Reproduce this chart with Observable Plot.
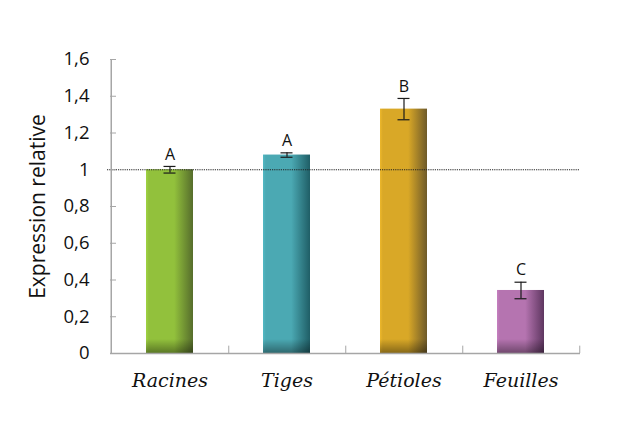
<!DOCTYPE html>
<html>
<head>
<meta charset="utf-8">
<script src="https://cdn.jsdelivr.net/npm/d3@7"></script>
<script src="https://cdn.jsdelivr.net/npm/@observablehq/plot@0.6"></script>
<style>
  html, body { margin: 0; padding: 0; background: #fff; }
  #chart svg { display: block; }
</style>
</head>
<body>
<div id="chart"></div>
<script>
const categories = ["Racines", "Tiges", "Pétioles", "Feuilles"];
const values = [1.0, 1.08, 1.33, 0.343];
const errors = [0.018, 0.012, 0.058, 0.045];
const letters = ["A", "A", "B", "C"];
const yTicks = [0, 0.2, 0.4, 0.6, 0.8, 1.0, 1.2, 1.4, 1.6];
const baseColors = ["#92c13c", "#4ba9b3", "#d9a827", "#b574b0"];
const darkColors = ["#566d2c", "#1f5e66", "#6e5a2a", "#5e3660"];

const W = 617, H = 425;
const mL = 110, mR = 37, mT = 59, mB = 72;
const innerW = W - mL - mR;
const padIn = 0.6, padOut = 0.3;
const step = innerW / (categories.length - padIn + 2 * padOut);

const data = categories.map((c, i) => ({
  cat: c, v: values[i], e: errors[i], letter: letters[i], grad: `url(#grad${i})`
}));

const fmt = d => String(d).replace(".", ",");

const chart = Plot.plot({
  width: W,
  height: H,
  marginLeft: mL,
  marginRight: mR,
  marginTop: mT,
  marginBottom: mB,
  style: { background: "#fff" },
  x: { domain: categories, paddingInner: padIn, paddingOuter: padOut, axis: null },
  y: { domain: [0, 1.6], axis: null },
  color: { type: "identity" },
  marks: [
    Plot.barY(data, { x: "cat", y: "v", fill: "grad" }),
    Plot.barY(data, { x: "cat", y: "v", fill: "url(#shadeBottom)" }),
    Plot.ruleY([1], { stroke: "#222", strokeDasharray: "1.2,1", strokeWidth: 1, insetLeft: -3 }),
    Plot.ruleY([0], { stroke: "#a6a6a6", strokeWidth: 1.5 }),
    Plot.ruleX([categories[0]], { dx: -step / 2, stroke: "#a6a6a6", strokeWidth: 1.5 }),
    Plot.ruleY(yTicks, { y: d => d, insetRight: innerW - 6, stroke: "#a6a6a6", strokeWidth: 1 }),
    Plot.ruleX(categories, { x: d => d, dx: step / 2, y1: 0, y2: 0.04, stroke: "#a6a6a6", strokeWidth: 1 }),
    Plot.ruleX(data, { x: "cat", y1: d => d.v - d.e, y2: d => d.v + d.e, stroke: "#1a1a1a", strokeWidth: 1.2 }),
    Plot.tickY(data, { x: "cat", y: d => d.v - d.e, insetLeft: 17.5, insetRight: 17.5, stroke: "#1a1a1a", strokeWidth: 1.2 }),
    Plot.tickY(data, { x: "cat", y: d => d.v + d.e, insetLeft: 17.5, insetRight: 17.5, stroke: "#1a1a1a", strokeWidth: 1.2 }),
    Plot.text(data, { x: "cat", y: d => d.v + d.e, text: "letter", dy: -12, fontSize: 16, fontFamily: "Open Sans", fill: "#111" }),
    Plot.axisY(yTicks, { anchor: "left", tickSize: 0, tickPadding: 21, tickFormat: fmt, fontSize: 18.5, fontFamily: "Open Sans", color: "#111", label: null }),
    Plot.text(["Expression relative"], { frameAnchor: "left", dx: -72, textAnchor: "middle", rotate: -90, fontSize: 21, fontFamily: "Open Sans", fill: "#111" }),
    Plot.axisX(categories, { anchor: "bottom", tickSize: 0, tickPadding: 20, fontSize: 19, fontFamily: "DejaVu Serif", fontStyle: "italic", color: "#111", label: null })
  ]
});

const ns = "http://www.w3.org/2000/svg";
const defs = document.createElementNS(ns, "defs");
baseColors.forEach((c, i) => {
  const g = document.createElementNS(ns, "linearGradient");
  g.setAttribute("id", `grad${i}`);
  g.setAttribute("x1", "0"); g.setAttribute("x2", "1");
  g.setAttribute("y1", "0"); g.setAttribute("y2", "0");
  const light = d3.color(c).brighter(0.25).formatHex();
  [[0, light], [0.06, c], [0.6, c], [1, darkColors[i]]].forEach(([o, col]) => {
    const s = document.createElementNS(ns, "stop");
    s.setAttribute("offset", o);
    s.setAttribute("stop-color", col);
    g.appendChild(s);
  });
  defs.appendChild(g);
});
const sb = document.createElementNS(ns, "linearGradient");
sb.setAttribute("id", "shadeBottom");
sb.setAttribute("gradientUnits", "userSpaceOnUse");
sb.setAttribute("x1", "0"); sb.setAttribute("x2", "0");
sb.setAttribute("y1", String(H - mB - 14)); sb.setAttribute("y2", String(H - mB));
[[0, 0], [1, 0.38]].forEach(([o, a]) => {
  const s = document.createElementNS(ns, "stop");
  s.setAttribute("offset", o);
  s.setAttribute("stop-color", "#000");
  s.setAttribute("stop-opacity", a);
  sb.appendChild(s);
});
defs.appendChild(sb);
chart.insertBefore(defs, chart.firstChild);

document.getElementById("chart").appendChild(chart);
</script>
</body>
</html>
